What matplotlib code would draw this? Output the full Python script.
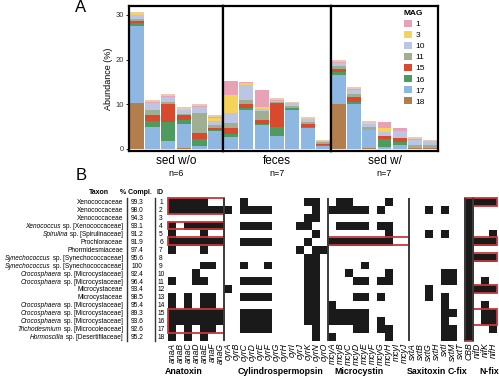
import numpy as np
import matplotlib
matplotlib.use('Agg')
import matplotlib.pyplot as plt
from matplotlib.patches import Patch, Rectangle
from matplotlib.lines import Line2D
from matplotlib.colors import ListedColormap

plt.rcParams['font.family'] = ['Liberation Sans', 'DejaVu Sans']

# ---------------- panel A data (abundance %, stacked per MAG) ----------------
groups = ['sed w/o', 'feces', 'sed w/']
group_n = ['n=6', 'n=7', 'n=7']
bars_per_group = [6, 7, 7]

#            sed w/o                          | feces                              | sed w/
mag18 = [10.2, 0.0, 0.0, 0.3, 0.0, 0.0,   0.0, 0.0, 0.0, 0.0, 0.0, 0.0, 0.0,   10.1, 0.0, 0.2, 0.0, 0.0, 0.3, 0.3]
mag17 = [17.3, 5.0, 1.7, 5.4, 0.7, 4.0,   2.6, 8.7, 5.4, 2.8, 8.7, 4.6, 0.6,   6.5, 10.0, 4.0, 0.5, 0.9, 0.0, 0.0]
mag16 = [0.6, 1.3, 4.4, 0.7, 1.5, 0.3,    0.8, 0.4, 0.2, 2.2, 0.5, 0.4, 0.2,   0.7, 0.6, 0.0, 1.7, 0.7, 0.0, 0.0]
mag15 = [0.6, 1.3, 4.0, 1.1, 1.3, 0.4,    1.3, 1.0, 0.8, 5.2, 0.0, 0.5, 0.3,   0.7, 1.1, 0.0, 0.6, 0.8, 0.0, 0.0]
mag11 = [0.4, 1.1, 0.5, 0.4, 4.5, 0.6,    1.1, 0.8, 2.0, 0.3, 0.5, 0.5, 0.4,   0.6, 0.6, 0.7, 0.0, 0.0, 0.6, 0.5]
mag10 = [0.8, 1.5, 1.0, 0.9, 1.3, 1.0,    2.2, 3.5, 0.5, 0.2, 0.5, 0.7, 0.2,   0.7, 0.9, 0.6, 1.1, 1.6, 1.0, 1.0]
mag3 = [0.2, 0.2, 0.1, 0.1, 0.1, 0.7,     4.1, 0.3, 0.6, 0.1, 0.0, 0.0, 0.0,   0.0, 0.0, 0.0, 0.9, 0.0, 0.0, 0.0]
mag1 = [0.2, 0.2, 0.2, 0.1, 0.2, 0.2,     3.1, 0.2, 3.7, 0.2, 0.1, 0.1, 0.1,   0.2, 0.2, 0.2, 1.2, 0.6, 0.3, 0.0]
other = [0.4, 0.4, 0.3, 0.4, 0.4, 0.5,    0.0, 0.2, 0.0, 0.3, 0.3, 0.4, 0.3,   0.5, 0.5, 0.5, 0.0, 0.0, 0.5, 0.2]

stack_order = ['18', '17', '16', '15', '11', '10', '3', '1', 'other']
abund = {'18': mag18, '17': mag17, '16': mag16, '15': mag15, '11': mag11,
         '10': mag10, '3': mag3, '1': mag1, 'other': other}
mag_colors = {'1': '#e8a2b6', '3': '#f5d35a', '10': '#bcc5e3', '11': '#a0ae93',
              '15': '#d84a2e', '16': '#4f9a5f', '17': '#8eb8e2', '18': '#b27e4d',
              'other': '#e9cbb3'}
legend_mags = ['1', '3', '10', '11', '15', '16', '17', '18']

# ---------------- panel B data ----------------
taxa = ['Xenococcaceae', 'Xenococcaceae', 'Xenococcaceae',
        'Xenococcus sp. [Xenococcaceae]', 'Spirulina sp. [Spirulinaceae]',
        'Prochloraceae', 'Phormidesmiaceae',
        'Synechococcus sp. [Synechococcaceae]', 'Synechococcus sp. [Synechococcaceae]',
        'Crocosphaera sp. [Microcystaceae]', 'Crocosphaera sp. [Microcystaceae]',
        'Microcystaceae', 'Microcystaceae',
        'Crocosphaera sp. [Microcystaceae]', 'Crocosphaera sp. [Microcystaceae]',
        'Crocosphaera sp. [Microcystaceae]', 'Trichodesmium sp. [Microcoleaceae]',
        'Hormoscilla sp. [Desertifilaceae]']
completeness = ['99.3', '98.0', '94.3', '93.1', '91.2', '91.9', '97.4', '95.6', '100',
                '92.4', '96.4', '93.4', '98.5', '95.4', '89.3', '93.6', '92.6', '95.2']

gene_groups = ['Anatoxin', 'Cylindrospermopsin', 'Microcystin', 'Saxitoxin', 'C-fix', 'N-fix']
genes = ['anaA', 'anaB', 'anaC', 'anaD', 'anaE', 'anaF', 'anaG',
         'cyrA', 'cyrB', 'cyrC', 'cyrD', 'cyrE', 'cyrF', 'cyrG', 'cyrH', 'cyrI', 'cyrJ',
         'cyrK', 'cyrN', 'cyrO',
         'mcyA', 'mcyB', 'mcyC', 'mcyD', 'mcyE', 'mcyF', 'mcyG', 'mcyH', 'mcyI', 'mcyJ',
         'sxtA', 'sxtB', 'sxtG', 'sxtH', 'sxtI', 'sxtM', 'sxtT',
         'CBB', 'nifD', 'nifK', 'nifH']
group_sizes = [7, 13, 10, 7, 1, 3]

# ana | cyr | mcy | sxt | CBB | nif
presence = [
    '1111100 0010000000110 0110000100 0000000 1 111',
    '1111111 1011110000010 1111101000 0010100 1 000',
    '0000000 0000000000110 0000000000 0000000 1 000',
    '1011111 0011110001100 0111101100 0000000 1 000',
    '1000100 0000000000010 0000000100 0010100 1 001',
    '1111111 0011110000100 1111111100 0000000 1 111',
    '1000100 0000000001011 0000000000 0000000 1 000',
    '0000000 0000000000110 0000000000 0000000 1 111',
    '0000110 0010010000110 0000100000 0000000 1 000',
    '0001000 0000000000110 0010000100 0000110 1 000',
    '1001100 0011110000110 0001101100 0000110 1 010',
    '0000000 1000000000110 0000000000 0010000 1 111',
    '1010110 0011110000110 0001101000 0010100 1 000',
    '1010110 0000000000110 1000000000 0000100 1 010',
    '1111111 0011110000110 1111100000 0000110 1 011',
    '1111111 0011110000110 1111101000 0000100 1 011',
    '1010110 0011110000010 0001101100 0000110 1 001',
    '1010100 0000000000010 1000000100 0000110 1 000',
]

# highlighted blocks: (gene group, first ID, last ID)
highlights = [('Anatoxin', 1, 2), ('Anatoxin', 4, 4), ('Anatoxin', 6, 6),
              ('Anatoxin', 15, 17), ('Microcystin', 6, 6), ('C-fix', 1, 18),
              ('N-fix', 1, 1), ('N-fix', 6, 6), ('N-fix', 8, 8), ('N-fix', 12, 12),
              ('N-fix', 15, 16)]

W, H = 499, 378


def fbox(x0, y0, x1, y1):
    return [x0 / W, 1 - y1 / H, (x1 - x0) / W, (y1 - y0) / H]


def fx(x):
    return x / W


def fy(y):
    return 1 - y / H


fig = plt.figure(figsize=(W / 100, H / 100), dpi=100)
renderer = fig.canvas.get_renderer()

# ---------------- panel A ----------------
edges = [129, 223, 331, 438]
start = 0
for g in range(3):
    n = bars_per_group[g]
    ax = fig.add_axes(fbox(edges[g], 6, edges[g + 1], 151))
    x = np.arange(n)
    bottom = np.zeros(n)
    for m in stack_order:
        vals = np.array(abund[m][start:start + n])
        ax.bar(x, vals, bottom=bottom, width=0.9, color=mag_colors[m], linewidth=0)
        bottom += vals
    start += n
    ax.set_xlim(-0.5, n - 0.5)
    ax.set_ylim(-0.45, 32.0)
    ax.set_xticks([])
    for s in ax.spines.values():
        s.set_linewidth(1.6)
    if g == 0:
        ax.set_yticks([0, 10, 20, 30])
        ax.tick_params(axis='y', labelsize=5.5, length=2, width=0.6, pad=1.5,
                       labelcolor='#333333')
        ax.set_ylabel('Abundance (%)', fontsize=6.5, labelpad=2)
    else:
        ax.set_yticks([])
    cx = (edges[g] + edges[g + 1]) / 2
    fig.text(fx(cx), fy(161), groups[g], ha='center', va='center', fontsize=8.5)
    fig.text(fx(cx), fy(174), group_n[g], ha='center', va='center', fontsize=6.5)

handles = [Patch(facecolor=mag_colors[m], label=m) for m in legend_mags]
leg = fig.legend(handles=handles, title='MAG', loc='upper left',
                 bbox_to_anchor=(fx(404), fy(10)), frameon=False, fontsize=6,
                 title_fontsize=6, handlelength=0.9, handleheight=0.9,
                 labelspacing=0.33, handletextpad=0.5, borderpad=0, borderaxespad=0)
leg.get_title().set_fontweight('bold')
leg._legend_box.align = 'left'

fig.text(fx(81), fy(8), 'A', ha='center', va='center', fontsize=12)
fig.text(fx(81), fy(176), 'B', ha='center', va='center', fontsize=12)

# ---------------- panel B ----------------
mat = np.array([[int(c) for c in row.replace(' ', '')] for row in presence])
nrow, ncol = mat.shape
top, bot = 197.7, 340.6
axh = fig.add_axes(fbox(168, top, 497, bot))
axh.imshow(mat, cmap=ListedColormap(['white', '#1a1a1a']), vmin=0, vmax=1,
           aspect='auto', interpolation='nearest', extent=(0, ncol, nrow, 0))
axh.set_xlim(0, ncol)
axh.set_ylim(nrow, 0)
bounds = np.concatenate([[0], np.cumsum(group_sizes)])
for b in bounds[1:-1]:
    axh.axvline(b, color='#3a3a3a', lw=1.4)
gstart = dict(zip(gene_groups, bounds[:-1]))
gsize = dict(zip(gene_groups, group_sizes))
for grp, r0, r1 in highlights:
    axh.add_patch(Rectangle((gstart[grp], r0 - 1), gsize[grp], r1 - r0 + 1,
                            fill=False, ec='#c8363a', lw=1.3, clip_on=False))
axh.set_xticks(np.arange(ncol) + 0.5)
axh.set_xticklabels(genes, rotation=90, fontstyle='italic', fontsize=6.2)
axh.tick_params(length=0, pad=1.5)
axh.set_yticks([])
for s in axh.spines.values():
    s.set_visible(False)

label_x = {'Anatoxin': 184, 'Cylindrospermopsin': 281, 'Microcystin': 359,
           'Saxitoxin': 426, 'C-fix': 458, 'N-fix': 489}
for grp in gene_groups:
    fig.text(fx(label_x[grp]), fy(372), grp, ha='center', va='center',
             fontsize=6.3, fontweight='bold')

# table to the left: genus names in italics, rest upright
rowh = (bot - top) / nrow
fig.text(fx(99), fy(192), 'Taxon', ha='center', va='center', fontsize=5, fontweight='bold')
fig.text(fx(136), fy(192), '% Compl.', ha='center', va='center', fontsize=5, fontweight='bold')
fig.text(fx(160), fy(192), 'ID', ha='center', va='center', fontsize=5, fontweight='bold')
for i, (t, p) in enumerate(zip(taxa, completeness)):
    y = top + (i + 0.5) * rowh
    if ' sp. ' in t:
        genus, rest = t.split(' ', 1)
        txt = fig.text(fx(123), fy(y), ' ' + rest, ha='right', va='center_baseline',
                       fontsize=4.7)
        wpx = txt.get_window_extent(renderer).width
        fig.text(fx(123 - wpx), fy(y), genus, ha='right', va='center_baseline',
                 fontsize=4.7, fontstyle='italic')
    else:
        fig.text(fx(123), fy(y), t, ha='right', va='center_baseline', fontsize=4.7)
    fig.text(fx(137), fy(y), p, ha='center', va='center_baseline', fontsize=4.8)
    fig.text(fx(161), fy(y), str(i + 1), ha='center', va='center_baseline', fontsize=4.8)
for xl in [127, 155]:
    fig.add_artist(Line2D([fx(xl), fx(xl)], [fy(top), fy(bot)], color='#333333', lw=1.0))

fig.savefig('out.png', dpi=100)
